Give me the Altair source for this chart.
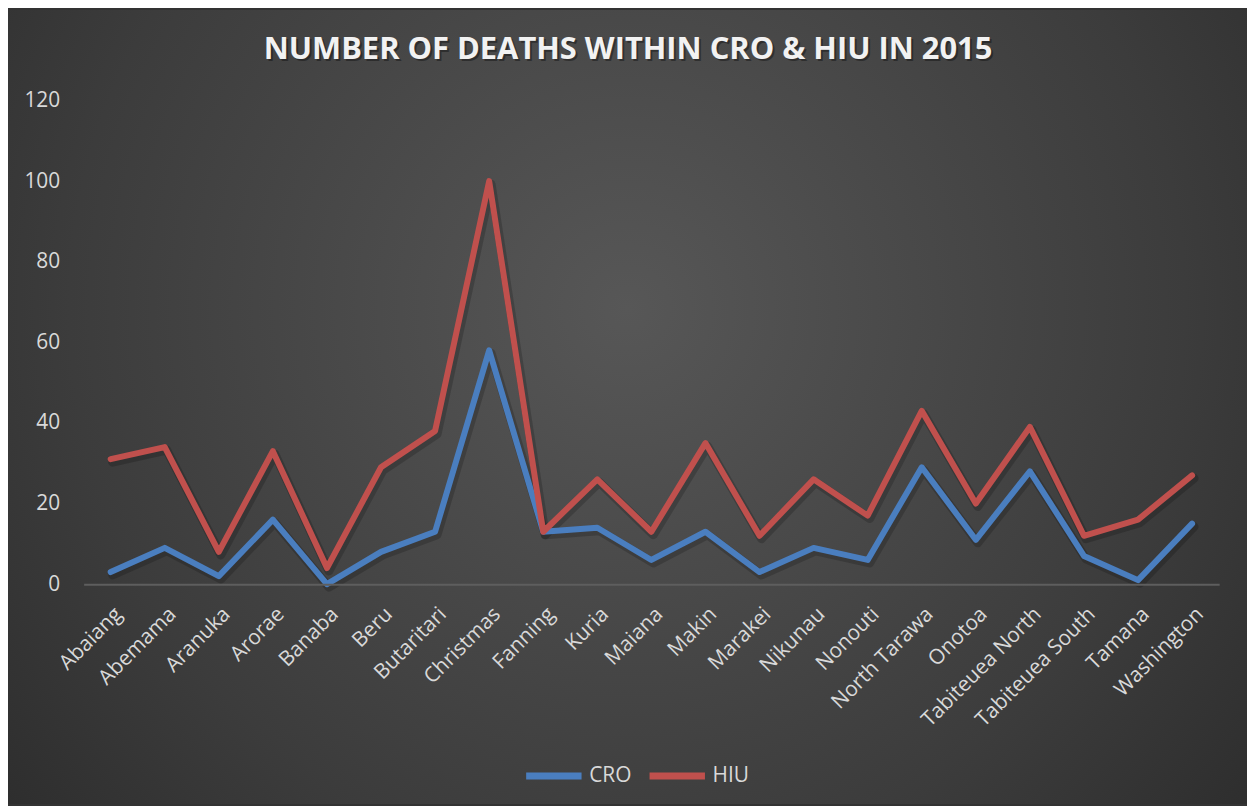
import altair as alt
import pandas as pd

title_text = "NUMBER OF DEATHS WITHIN CRO & HIU IN 2015"
categories = ["Abaiang", "Abemama", "Aranuka", "Arorae", "Banaba", "Beru", "Butaritari",
              "Christmas", "Fanning", "Kuria", "Maiana", "Makin", "Marakei", "Nikunau",
              "Nonouti", "North Tarawa", "Onotoa", "Tabiteuea North", "Tabiteuea South",
              "Tamana", "Washington"]
cro = [3, 9, 2, 16, 0, 8, 13, 58, 13, 14, 6, 13, 3, 9, 6, 29, 11, 28, 7, 1, 15]
hiu = [31, 34, 8, 33, 4, 29, 38, 100, 13, 26, 13, 35, 12, 26, 17, 43, 20, 39, 12, 16, 27]
series = ["CRO", "HIU"]
colors = ["#4a7ebf", "#c0504d"]
y_ticks = [0, 20, 40, 60, 80, 100, 120]

rows = []
for name, vals in zip(series, [cro, hiu]):
    for c, v in zip(categories, vals):
        rows.append({"Region": c, "Series": name, "Deaths": v})
df = pd.DataFrame(rows)

W, H = 1141, 486
PL, PT, PR, PB = 76, 91, 28, 221
FONT = "Open Sans"
LBL = "#d9d9d9"

one = pd.DataFrame({"t": [title_text]})

bg = alt.Chart(one).mark_rect(
    fill=alt.RadialGradient(
        gradient="radial",
        stops=[alt.GradientStop(color="#575757", offset=0),
               alt.GradientStop(color="#3c3c3c", offset=0.6),
               alt.GradientStop(color="#262626", offset=1)],
        x1=0.5, y1=0.42, r1=0, x2=0.5, y2=0.42, r2=0.75),
).encode(
    x=alt.value(-PL), x2=alt.value(W + PR),
    y=alt.value(-PT), y2=alt.value(H + PB),
)

title_shadow = alt.Chart(one).mark_text(
    font=FONT, fontSize=31, fontWeight="bold", color="#000000", opacity=0.35,
    align="center", baseline="alphabetic",
).encode(text="t:N", x=alt.value(549), y=alt.value(-40))

title = alt.Chart(one).mark_text(
    font=FONT, fontSize=31, fontWeight="bold", color="#f2f2f2",
    align="center", baseline="alphabetic",
).encode(text="t:N", x=alt.value(547), y=alt.value(-42))

xenc = alt.X("Region:N", sort=categories, scale=alt.Scale(padding=0.5),
             axis=alt.Axis(title=None, labelAngle=-45, labelAlign="right", labelBaseline="top",
                           ticks=False, domain=True, domainColor="#5e5e5e", domainWidth=2,
                           labelColor=LBL, labelFontSize=21, labelFont=FONT,
                           labelPadding=19, grid=False, zindex=1))
yenc = alt.Y("Deaths:Q", scale=alt.Scale(domain=[0, 120], nice=False),
             axis=alt.Axis(title=None, values=y_ticks, domain=False, ticks=False, grid=False,
                           labelColor=LBL, labelFontSize=21, labelFont=FONT,
                           labelPadding=24, zindex=1))

shadow = alt.Chart(df).mark_line(
    strokeWidth=9, strokeCap="round", strokeJoin="round", color="#000000",
    opacity=0.18, xOffset=2, yOffset=3,
).encode(x=xenc, y=yenc, detail="Series:N")

lines = alt.Chart(df).mark_line(strokeWidth=6, strokeCap="round", strokeJoin="round").encode(
    x=xenc,
    y=yenc,
    color=alt.Color("Series:N", scale=alt.Scale(domain=series, range=colors),
                    legend=alt.Legend(title=None, orient="none", direction="horizontal",
                                      legendX=441, legendY=647, zindex=1, padding=0,
                                      symbolType="stroke", symbolSize=3100, symbolStrokeWidth=7,
                                      labelColor=LBL, labelFontSize=21, labelFont=FONT,
                                      columnPadding=3, labelOffset=4)),
    detail="Series:N",
)

chart = alt.layer(bg, title_shadow, title, shadow, lines).properties(
    width=W, height=H,
    padding={"left": PL, "top": PT, "right": PR, "bottom": PB},
    autosize=alt.AutoSizeParams(type="none"),
).configure(background="#333333").configure_view(stroke=None)

chart.save("out.html", embed_options={"renderer": "svg", "actions": False})
